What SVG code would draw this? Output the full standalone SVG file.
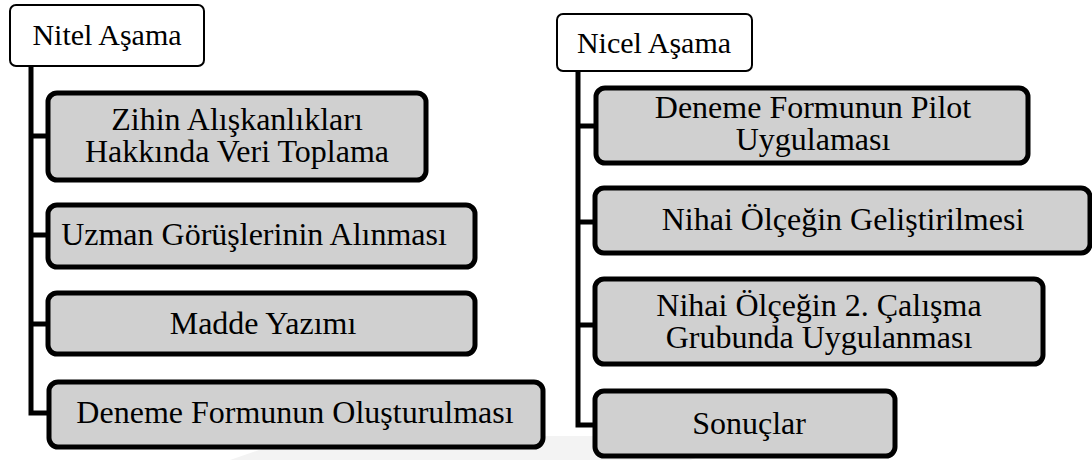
<svg xmlns="http://www.w3.org/2000/svg" width="1092" height="460" viewBox="0 0 1092 460">
<defs>
<rect id="hdrshape" rx="6"/>
</defs>
<rect width="1092" height="460" fill="#fff"/>
<g id="watermark" fill="#f3f3f3">
<polygon points="230,460 300,436 760,436 690,460"/>
</g>
<g id="connectors" fill="none" stroke="#000" stroke-width="5">
<path d="M31,66 V413 H50"/>
<path d="M31,136 H50 M31,235 H50 M31,324 H50"/>
<path d="M578,71 V425 H597"/>
<path d="M578,126 H597 M578,222 H597 M578,325 H597"/>
</g>
<g font-family="Liberation Serif" font-size="32" text-anchor="middle" fill="#000">
<g id="nitel">
<rect x="10" y="5" width="194" height="61" rx="6" fill="#fff" stroke="#000" stroke-width="2"/>
<text x="107" y="45" font-size="30">Nitel Aşama</text>
</g>
<g id="zihin">
<rect x="48" y="93" width="378" height="87" rx="9" fill="#d0d0d0" stroke="#000" stroke-width="5"/>
<text x="237" y="130">Zihin Alışkanlıkları</text>
<text x="237" y="162">Hakkında Veri Toplama</text>
</g>
<g id="uzman">
<rect x="48" y="205" width="427" height="62" rx="9" fill="#d0d0d0" stroke="#000" stroke-width="5"/>
<text x="254" y="245">Uzman Görüşlerinin Alınması</text>
</g>
<g id="madde">
<rect x="48" y="293" width="427" height="61" rx="9" fill="#d0d0d0" stroke="#000" stroke-width="5"/>
<text x="263" y="334">Madde Yazımı</text>
</g>
<g id="deneme">
<rect x="49" y="382" width="494" height="65" rx="9" fill="#d0d0d0" stroke="#000" stroke-width="5"/>
<text x="295" y="423">Deneme Formunun Oluşturulması</text>
</g>
<g id="nicel">
<rect x="557" y="14" width="195" height="57" rx="6" fill="#fff" stroke="#000" stroke-width="2"/>
<text x="654" y="53" font-size="30">Nicel Aşama</text>
</g>
<g id="pilot">
<rect x="596" y="88" width="432" height="75" rx="9" fill="#d0d0d0" stroke="#000" stroke-width="5"/>
<text x="813" y="118">Deneme Formunun Pilot</text>
<text x="813" y="150">Uygulaması</text>
</g>
<g id="nihai">
<rect x="595" y="188" width="495" height="65" rx="9" fill="#d0d0d0" stroke="#000" stroke-width="5"/>
<text x="843" y="230">Nihai Ölçeğin Geliştirilmesi</text>
</g>
<g id="nihai2">
<rect x="595" y="279" width="448" height="85" rx="9" fill="#d0d0d0" stroke="#000" stroke-width="5"/>
<text x="819" y="316">Nihai Ölçeğin 2. Çalışma</text>
<text x="819" y="348">Grubunda Uygulanması</text>
</g>
<g id="sonuclar">
<rect x="595" y="391" width="300" height="65" rx="9" fill="#d0d0d0" stroke="#000" stroke-width="5"/>
<text x="749" y="434">Sonuçlar</text>
</g>
</g>
</svg>
